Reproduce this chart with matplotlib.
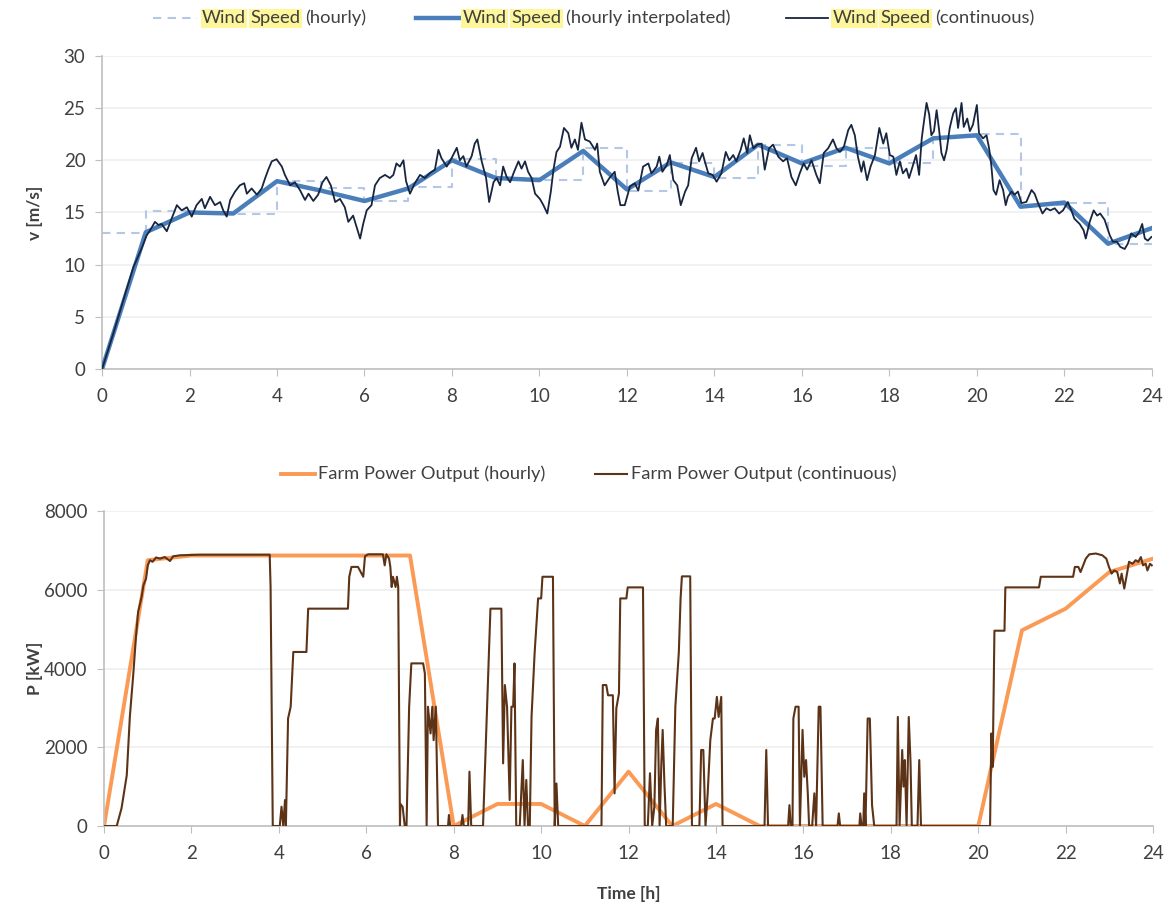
import numpy as np
import matplotlib.pyplot as plt
from matplotlib.lines import Line2D

plt.rcParams['font.family'] = ['Lato', 'DejaVu Sans']

# hourly wind speed (step, one value per hour interval 0-1 ... 23-24)
wind_hourly = [13.0, 15.1, 15.0, 14.9, 18.0, 17.3, 16.1, 17.4, 20.1, 18.3, 18.1, 21.2,
               17.1, 19.7, 18.3, 21.5, 19.5, 21.2, 19.7, 22.2, 22.5, 15.7, 15.9, 12.0]

# hourly interpolated wind speed at hours 0..24
wind_interp = [0, 13.1, 15.0, 14.9, 18.0, 17.1, 16.1, 17.3, 20.0, 18.3, 18.1, 20.9, 17.2,
               19.8, 18.4, 21.5, 19.7, 21.2, 19.7, 22.1, 22.4, 15.55, 15.95, 12.0, 13.5]

# continuous wind speed
wind_t = [0, 0.25, 0.53, 0.72, 0.9, 1.02, 1.1, 1.21, 1.29, 1.36, 1.48, 1.59, 1.71, 1.82, 1.94,
          2.05, 2.16, 2.28, 2.35, 2.47, 2.58, 2.7, 2.77, 2.85, 2.93, 3.04, 3.15, 3.25, 3.31,
          3.42, 3.54, 3.65, 3.73, 3.8, 3.88, 3.99, 4.11, 4.18, 4.3, 4.41, 4.53, 4.64, 4.72,
          4.83, 4.94, 5.04, 5.13, 5.23, 5.33, 5.44, 5.55, 5.63, 5.74, 5.82, 5.9, 5.97, 6.05,
          6.16, 6.24, 6.35, 6.47, 6.58, 6.66, 6.73, 6.81, 6.89, 6.95, 7.04, 7.15, 7.27, 7.38,
          7.5, 7.61, 7.69, 7.76, 7.88, 7.99, 8.11, 8.18, 8.26, 8.33, 8.45, 8.52, 8.58, 8.68,
          8.78, 8.85, 8.95, 9.02, 9.1, 9.17, 9.25, 9.33, 9.42, 9.52, 9.59, 9.67, 9.74, 9.82,
          9.9, 10.01, 10.09, 10.18, 10.26, 10.32, 10.39, 10.47, 10.56, 10.66, 10.73, 10.81,
          10.88, 10.96, 11.04, 11.15, 11.27, 11.32, 11.38, 11.49, 11.6, 11.72, 11.79, 11.85,
          11.95, 12.07, 12.18, 12.26, 12.37, 12.49, 12.56, 12.68, 12.74, 12.81, 12.91, 12.98,
          13.06, 13.15, 13.23, 13.33, 13.4, 13.48, 13.58, 13.65, 13.73, 13.78, 13.86, 13.96,
          14.05, 14.16, 14.26, 14.34, 14.43, 14.5, 14.6, 14.67, 14.75, 14.81, 14.89, 14.98,
          15.08, 15.15, 15.25, 15.34, 15.46, 15.57, 15.66, 15.76, 15.86, 15.95, 16.04, 16.12,
          16.22, 16.33, 16.41, 16.5, 16.6, 16.71, 16.79, 16.87, 16.96, 17.06, 17.13, 17.21,
          17.28, 17.36, 17.41, 17.49, 17.57, 17.67, 17.77, 17.86, 17.93, 18.01, 18.09, 18.16,
          18.24, 18.31, 18.39, 18.45, 18.53, 18.61, 18.68, 18.74, 18.79, 18.85, 18.91, 18.96,
          19.02, 19.08, 19.14, 19.19, 19.25, 19.31, 19.38, 19.46, 19.52, 19.57, 19.65, 19.7,
          19.78, 19.84, 19.91, 20.0, 20.05, 20.14, 20.22, 20.28, 20.33, 20.38, 20.44, 20.52,
          20.6, 20.66, 20.71, 20.79, 20.86, 20.94, 21.02, 21.13, 21.25, 21.32, 21.4, 21.5,
          21.59, 21.68, 21.78, 21.88, 21.97, 22.08, 22.16, 22.23, 22.35, 22.44, 22.49, 22.58,
          22.67, 22.75, 22.82, 22.92, 23.04, 23.11, 23.2, 23.28, 23.38, 23.45, 23.53, 23.63,
          23.71, 23.78, 23.84, 23.91, 23.99]
wind_v = [0, 3.3, 7.2, 9.8, 11.5, 12.8, 13.3, 14.1, 13.8, 13.9, 13.2, 14.4, 15.7, 15.2, 15.5,
          14.6, 15.7, 16.3, 15.4, 16.5, 15.7, 16.0, 15.2, 14.6, 16.2, 17.0, 17.6, 17.8, 16.8,
          17.3, 16.7, 17.3, 18.3, 19.1, 19.9, 20.1, 19.4, 18.6, 17.6, 17.9, 17.1, 16.2, 16.8,
          16.1, 16.7, 17.9, 18.4, 17.6, 16.0, 16.3, 15.5, 14.1, 14.7, 13.6, 12.5, 13.9, 15.2,
          15.7, 17.6, 18.3, 18.6, 18.3, 18.6, 19.7, 19.4, 20.0, 18.0, 16.8, 17.8, 18.6, 18.3,
          18.8, 19.1, 21.0, 20.2, 19.4, 20.2, 21.2, 20.0, 20.4, 19.4, 20.4, 21.6, 22.0, 19.9,
          18.3, 16.0, 17.9, 18.3, 17.6, 19.4, 18.4, 17.9, 18.9, 19.9, 19.2, 19.9, 18.9, 18.3,
          16.8, 16.3, 15.7, 14.9, 17.0, 19.1, 20.8, 21.3, 23.1, 22.6, 21.2, 22.0,
          21.0, 23.6, 22.0, 21.8, 21.0, 21.6, 18.9, 17.6, 18.3, 18.9, 17.0, 15.7,
          15.7, 17.5, 17.8, 17.1, 19.4, 19.7, 18.75, 19.4, 20.35, 18.9, 19.55, 20.5,
          18.1, 17.6, 15.7, 17.0, 17.6, 20.2, 21.2, 19.9, 20.7, 19.9, 18.75, 18.6,
          17.95, 18.75, 20.8, 20.0, 20.5, 19.9, 21.0, 22.1, 20.7, 22.4, 21.15, 21.5,
          21.6, 19.1, 21.15, 21.5, 20.35, 19.9, 20.2, 18.4, 17.6, 18.75, 19.7, 19.1,
          20.0, 18.6, 17.8, 20.7, 21.15, 22.0, 21.15, 20.8, 21.3, 22.9, 23.4, 22.4,
          20.35, 18.9, 19.9, 18.1, 19.4, 20.5, 23.1, 21.6, 22.6, 20.5, 20.35, 18.6,
          19.9, 18.75, 19.2, 18.3, 19.4, 20.5, 18.6, 22.1, 23.7, 25.5, 24.4, 22.4,
          22.8, 24.8, 22.8, 20.7, 20.0, 21.0, 23.1, 24.5, 25.0, 23.1, 25.5, 23.2,
          24.0, 22.8, 23.4, 25.3, 22.6, 22.1, 22.4, 21.15, 19.55, 17.15, 16.7, 18.1,
          17.15, 15.7, 16.5, 17.0, 16.7, 17.0, 15.9, 16.0, 17.15, 16.8, 15.9, 14.9,
          15.4, 15.2, 15.4, 14.9, 15.2, 16.0, 15.2, 14.4, 13.9, 13.3, 12.5, 14.1,
          15.2, 14.7, 14.9, 14.3, 12.8, 12.2, 12.2, 11.7, 11.5, 12.0, 13.0, 12.65,
          13.1, 13.9, 12.5, 12.3, 12.65]

# hourly farm power at hours 0..24
power_hourly = [0, 6750, 6870, 6870, 6870, 6870, 6870, 6870, 0, 560, 560, 0, 1380, 0, 560, 0,
                0, 0, 0, 0, 0, 4970, 5520, 6450, 6790]

# continuous farm power
power_t = [0, 0.29, 0.4, 0.52, 0.59, 0.67, 0.73, 0.78, 0.86, 0.9, 0.96, 1.0, 1.05, 1.11, 1.19,
           1.28, 1.39, 1.51, 1.58, 1.74, 2.19, 3.79, 3.81, 3.86, 4.02, 4.06, 4.1, 4.14, 4.16,
           4.21, 4.27, 4.33, 4.63, 4.67, 5.58, 5.61, 5.66, 5.81, 5.93, 5.97, 6.04, 6.38, 6.42,
           6.46, 6.52, 6.55, 6.58, 6.61, 6.67, 6.7, 6.73, 6.77, 6.78, 6.83, 6.88, 6.92, 6.98,
           7.03, 7.3, 7.34, 7.38, 7.41, 7.47, 7.51, 7.54, 7.59, 7.64, 7.87, 7.89, 7.92, 8.17,
           8.2, 8.23, 8.33, 8.36, 8.4, 8.67, 8.73, 8.78, 8.84, 9.09, 9.13, 9.17, 9.22, 9.28,
           9.32, 9.36, 9.39, 9.43, 9.51, 9.58, 9.62, 9.66, 9.7, 9.74, 9.78, 9.85, 9.93, 10.0,
           10.03, 10.27, 10.31, 10.35, 10.39, 11.38, 11.41, 11.49, 11.53, 11.64, 11.68, 11.72,
           11.78, 11.81, 11.95, 11.98, 12.33, 12.37, 12.44, 12.49, 12.54, 12.59, 12.63, 12.67,
           12.71, 12.75, 12.78, 12.82, 12.86, 13.01, 13.07, 13.15, 13.19, 13.22, 13.41, 13.45,
           13.62, 13.66, 13.71, 13.76, 13.81, 13.87, 13.93, 13.97, 14.02, 14.06, 14.12, 14.15,
           15.11, 15.15, 15.19, 15.65, 15.68, 15.71, 15.75, 15.77, 15.82, 15.89, 15.92, 15.98,
           16.02, 16.06, 16.1, 16.13, 16.2, 16.25, 16.29, 16.35, 16.39, 16.44, 16.78, 16.81,
           16.84, 17.28, 17.3, 17.33, 17.37, 17.39, 17.42, 17.47, 17.52, 17.57, 17.62, 18.13,
           18.16, 18.2, 18.26, 18.29, 18.32, 18.36, 18.41, 18.45, 18.48, 18.61, 18.65, 18.69,
           20.27, 20.3, 20.33, 20.37, 20.6, 20.62, 21.39, 21.43, 22.17, 22.21, 22.29, 22.34,
           22.4, 22.46, 22.54, 22.69, 22.84, 22.93, 22.99, 23.05, 23.11, 23.18, 23.24, 23.28,
           23.34, 23.39, 23.45, 23.53, 23.6, 23.66, 23.72, 23.77, 23.83, 23.87, 23.93, 23.97]
power_p = [0, 0, 450, 1290, 2770, 3870, 4800, 5440, 5820, 6110, 6280, 6620, 6750, 6710, 6820,
           6790, 6830, 6730, 6850, 6875, 6890, 6890, 6070, 0, 0, 490, 0, 660, 0,
           2730, 3030, 4420, 4420, 5520, 5520, 6330, 6580, 6580, 6330, 6850, 6900, 6900, 6620,
           6900, 6790, 6580, 6070, 6330, 6070, 6330, 6070, 0, 560, 490, 0, 0, 3030,
           4130, 4130, 3870, 0, 3030, 2350, 3030, 2180, 3030, 0, 0, 280, 0, 0,
           280, 0, 0, 1380, 0, 0, 1930, 3620, 5520, 5520, 1590, 3580, 3030, 660,
           3030, 3030, 4130, 0, 0, 1675, 0, 1170, 0, 0, 2770, 4380, 5780, 5780,
           6330, 6330, 0, 1080, 0, 0, 3580, 3580, 3320, 3320, 830, 2990,
           3370, 5780, 5780, 6060, 6060, 0, 0, 1340, 0, 490, 2440, 2730,
           0, 1590, 2440, 1080, 0, 0, 3030, 4420, 5780, 6340, 6340, 0,
           0, 1930, 1930, 0, 830, 2180, 2730, 2730, 3280, 2770, 3280, 0,
           0, 1930, 0, 0, 530, 0, 0, 2730, 3030, 3030, 0, 2440,
           1250, 1675, 830, 0, 0, 830, 0, 3030, 3030, 0, 0, 320,
           0, 0, 320, 0, 0, 830, 0, 2730, 2730, 530, 0, 0,
           2770, 0, 1930, 1000, 1675, 0, 2770, 1630, 0, 0, 1675, 0,
           0, 2350, 1500, 4960, 4960, 6060, 6060, 6330, 6330, 6580, 6580, 6450,
           6620, 6790, 6900, 6920, 6875, 6790, 6580, 6410, 6490, 6450, 6160, 6410,
           6030, 6330, 6710, 6660, 6750, 6710, 6830, 6620, 6660, 6490, 6660, 6620]

hours = np.arange(25)

TXT = '#404040'
SPINE = '#bfbfbf'
GRID = '#efefef'
HIGHLIGHT = '#fdf69a'
FS = 13.2

fig = plt.figure(figsize=(11.69, 9.07), dpi=100)
ax1 = fig.add_axes([0.0873, 0.5932, 0.898, 0.3451])
ax2 = fig.add_axes([0.0890, 0.0893, 0.8974, 0.3473])

# top: wind speed
ax1.step(hours, wind_hourly + [wind_hourly[-1]], where='post', color='#b4c7e7',
         lw=1.5, ls=(0, (4, 3)), zorder=2)
ax1.plot(hours, wind_interp, color='#4a7ebb', lw=3.2, zorder=3)
ax1.plot(wind_t, wind_v, color='#17253f', lw=1.3, zorder=4)
ax1.set_ylim(0, 30)
ax1.set_yticks(range(0, 31, 5))
ax1.set_ylabel('v [m/s]', fontsize=12.5, fontweight='bold', color=TXT)
ax1.yaxis.set_label_coords(-0.056, 0.5)

# bottom: farm power
ax2.plot(hours, power_hourly, color='#fb9a55', lw=2.8, zorder=2)
ax2.plot(power_t, power_p, color='#5c3317', lw=1.5, zorder=3)
ax2.set_ylim(0, 8000)
ax2.set_yticks(range(0, 8001, 2000))
ax2.set_ylabel('P [kW]', fontsize=12.5, fontweight='bold', color=TXT)
ax2.yaxis.set_label_coords(-0.058, 0.5)
ax2.set_xlabel('Time [h]', fontsize=12.5, fontweight='bold', color=TXT)
ax2.xaxis.set_label_coords(0.5, -0.19)

for ax in (ax1, ax2):
    ax.set_xlim(0, 24)
    ax.set_xticks(range(0, 25, 2))
    ax.grid(axis='y', color=GRID, lw=1.2)
    ax.set_axisbelow(True)
    for s in ('top', 'right'):
        ax.spines[s].set_visible(False)
    for s in ('left', 'bottom'):
        ax.spines[s].set_color(SPINE)
        ax.spines[s].set_linewidth(1.2)
    ax.tick_params(axis='both', colors=SPINE, labelcolor=TXT, labelsize=13.5, length=5)
    ax.tick_params(axis='x', pad=9)
    ax.tick_params(axis='y', pad=7)


def legend_entry(y, x0, x1, xt, parts, **line_kw):
    # draw a line sample and a row of text pieces, some highlighted
    fig.add_artist(Line2D([x0, x1], [y, y], transform=fig.transFigure, **line_kw))
    prev = None
    for word, hl in parts:
        box = dict(boxstyle='square,pad=0.08', fc=HIGHLIGHT, ec='none') if hl else None
        if prev is None:
            prev = fig.text(xt, y, word, fontsize=FS, color=TXT, va='center', bbox=box)
        else:
            prev = ax1.annotate(word, xy=(1, 0), xycoords=prev, xytext=(3.3, 0),
                                textcoords='offset points', va='bottom', fontsize=FS,
                                color=TXT, bbox=box, annotation_clip=False)


ws = [('Wind', True), ('Speed', True)]
legend_entry(0.980, 0.131, 0.1685, 0.1728, ws + [('(hourly)', False)],
             color='#b4c7e7', lw=1.5, ls=(0, (4, 3)))
legend_entry(0.980, 0.356, 0.394, 0.396, ws + [('(hourly interpolated)', False)],
             color='#4a7ebb', lw=3.2)
legend_entry(0.980, 0.672, 0.708, 0.712, ws + [('(continuous)', False)],
             color='#17253f', lw=1.3)
legend_entry(0.4774, 0.240, 0.2695, 0.272, [('Farm Power Output (hourly)', False)],
             color='#fb9a55', lw=2.8)
legend_entry(0.4774, 0.509, 0.536, 0.540, [('Farm Power Output (continuous)', False)],
             color='#5c3317', lw=1.5)

fig.savefig('out.png', dpi=100)
